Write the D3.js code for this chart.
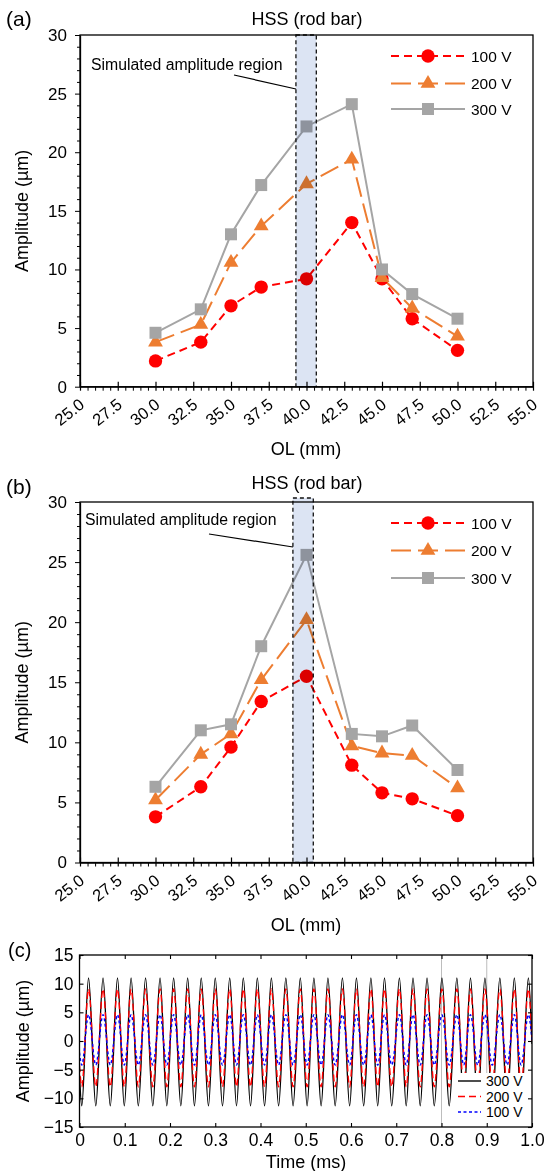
<!DOCTYPE html>
<html>
<head>
<meta charset="utf-8">
<script src="https://cdn.jsdelivr.net/npm/d3@7"></script>
<style>
  body { margin: 0; background: #fff; }
  svg { display: block; font-family: "Liberation Sans", Arial, sans-serif; }
</style>
</head>
<body>
<svg id="fig" width="544" height="1171"></svg>
<script>
// ---- datos (a) y (b)
const olTicks = [25, 27.5, 30, 32.5, 35, 37.5, 40, 42.5, 45, 47.5, 50, 52.5, 55];
const ol = [30, 33, 35, 37, 40, 43, 45, 47, 50];
const a100 = [2.2, 3.8, 6.9, 8.5, 9.2, 14.0, 9.2, 5.8, 3.1];
const a200 = [3.8, 5.3, 10.6, 13.7, 17.3, 19.4, 9.3, 6.7, 4.3];
const a300 = [4.6, 6.6, 13.0, 17.2, 22.2, 24.1, 10.0, 7.9, 5.8];
const b100 = [3.8, 6.3, 9.6, 13.4, 15.5, 8.1, 5.8, 5.3, 3.9];
const b200 = [5.2, 9.0, 10.7, 15.2, 20.2, 9.7, 9.1, 8.9, 6.2];
const b300 = [6.3, 11.0, 11.5, 18.0, 25.6, 10.7, 10.5, 11.4, 7.7];
const ampTicks = [0, 5, 10, 15, 20, 25, 30];
const voltages = ['100 V', '200 V', '300 V'];

// ---- datos (c): tiempos de picos y valles (ms)
const tPeak = [0.020, 0.052, 0.084, 0.114, 0.146, 0.178, 0.208, 0.239, 0.269, 0.300, 0.332, 0.362,
  0.393, 0.424, 0.456, 0.488, 0.518, 0.549, 0.581, 0.612, 0.644, 0.674, 0.707, 0.737,
  0.768, 0.801, 0.834, 0.864, 0.896, 0.929, 0.961, 0.992];
const tTrough = [0.005, 0.036, 0.068, 0.099, 0.130, 0.162, 0.193, 0.224, 0.254, 0.285, 0.316, 0.347,
  0.378, 0.409, 0.440, 0.472, 0.503, 0.534, 0.565, 0.597, 0.628, 0.659, 0.690, 0.722,
  0.753, 0.784, 0.817, 0.849, 0.880, 0.912, 0.945, 0.976];
const waveNames = ['300 V', '200 V', '100 V'];
const peakLevel = [11.0, 9.1, 4.6];
const troughLevel = [-11.3, -8.0, -4.2];
const startLevel = [-6.0, -4.2, -2.0];
const endLevel = [-0.5, -0.3, 0.0];
const timeTicks = [0, 0.1, 0.2, 0.3, 0.4, 0.5, 0.6, 0.7, 0.8, 0.9, 1.0];
const cTicks = [-15, -10, -5, 0, 5, 10, 15];
const gridTimes = [0.8, 0.9];

const svg = d3.select('#fig');
svg.append('rect').attr('width', 544).attr('height', 1171).attr('fill', '#fff');

const fuente = '"Liberation Sans", Arial, sans-serif';

//Estilos de las series
const colores = ['#ff0000', '#ed7d31', '#a5a5a5'];
const trazos = ['8,5', '20,7', null];
const simbolos = [d3.symbolCircle, d3.symbolTriangle, d3.symbolSquare];
const tamanos = [140, 95, 144];

function olPanel(cfg) {
    const x = d3.scaleLinear().domain([25, 55]).range([80, 533]);
    const y = d3.scaleLinear().domain([0, 30]).range([cfg.bottom, cfg.top]);
    const g = svg.append('g');

    const line = d3.line().x((d, i) => x(ol[i])).y(d => y(d));

    cfg.series.forEach((s, k) => {
        g.append('path')
            .datum(s)
            .attr('d', line)
            .attr('fill', 'none')
            .attr('stroke', colores[k])
            .attr('stroke-width', 2)
            .attr('stroke-dasharray', trazos[k]);
    });
    cfg.series.forEach((s, k) => {
        g.selectAll('.m' + k)
            .data(s)
            .enter()
            .append('path')
            .attr('transform', (d, i) => `translate(${x(ol[i])},${y(d)})`)
            .attr('d', d3.symbol(simbolos[k], tamanos[k]))
            .attr('fill', colores[k]);
    });

    //Region simulada (multiplica sobre las marcas)
    g.append('rect')
        .attr('x', x(cfg.region[0]))
        .attr('y', cfg.regionTop)
        .attr('width', x(cfg.region[1]) - x(cfg.region[0]))
        .attr('height', cfg.bottom - cfg.regionTop)
        .attr('fill', '#dce4f3')
        .style('mix-blend-mode', 'multiply');
    g.append('rect')
        .attr('x', x(cfg.region[0]))
        .attr('y', cfg.regionTop)
        .attr('width', x(cfg.region[1]) - x(cfg.region[0]))
        .attr('height', cfg.bottom - cfg.regionTop)
        .attr('fill', 'none')
        .attr('stroke', '#111')
        .attr('stroke-width', 1.3)
        .attr('stroke-dasharray', '4,3');

    g.append('text')
        .attr('x', cfg.note[0]).attr('y', cfg.note[1])
        .attr('font-size', 15.8).text('Simulated amplitude region');
    g.append('line')
        .attr('x1', cfg.lead[0]).attr('y1', cfg.lead[1])
        .attr('x2', cfg.lead[2]).attr('y2', cfg.lead[3])
        .attr('stroke', '#000').attr('stroke-width', 1.2);

    //Marco
    g.append('rect')
        .attr('x', 80).attr('y', cfg.top)
        .attr('width', 453).attr('height', cfg.bottom - cfg.top)
        .attr('fill', 'none').attr('stroke', '#000').attr('stroke-width', 1.3);

    //Eje X
    const minX = d3.range(25, 55.01, 0.5).filter(v => Math.abs(v / 2.5 - Math.round(v / 2.5)) > 1e-6);
    g.append('g')
        .attr('transform', `translate(0,${cfg.bottom})`)
        .call(d3.axisBottom(x).tickValues(minX).tickSize(4).tickFormat(''))
        .call(a => a.select('.domain').remove());
    const ax = g.append('g')
        .attr('transform', `translate(0,${cfg.bottom})`)
        .call(d3.axisBottom(x).tickValues(olTicks).tickSizeInner(4).tickSizeOuter(0).tickFormat(d3.format('.1f')));
    ax.select('.domain').attr('stroke-width', 1.3);
    ax.selectAll('.tick line').attr('y1', -5).attr('stroke-width', 1.2);
    ax.selectAll('.tick text')
        .attr('font-size', 16.5)
        .attr('font-family', fuente)
        .attr('fill', '#000')
        .attr('text-anchor', 'end')
        .attr('dy', null)
        .attr('y', 0)
        .attr('transform', 'translate(5,20) rotate(-38)');

    //Eje Y
    g.append('g')
        .attr('transform', 'translate(80,0)')
        .call(d3.axisLeft(y).tickValues(d3.range(0, 31, 1).filter(v => v % 5)).tickSize(3).tickFormat(''))
        .call(a => a.select('.domain').remove());
    const ay = g.append('g')
        .attr('transform', 'translate(80,0)')
        .call(d3.axisLeft(y).tickValues(ampTicks).tickSizeInner(5).tickSizeOuter(0).tickPadding(8));
    ay.select('.domain').attr('stroke-width', 1.3);
    ay.selectAll('.tick text')
        .attr('font-size', 17)
        .attr('font-family', fuente)
        .attr('fill', '#000');

    //Textos
    g.append('text').attr('x', 307).attr('y', cfg.top - cfg.titleOff).attr('text-anchor', 'middle')
        .attr('font-size', 18).text('HSS (rod bar)');
    g.append('text').attr('x', 6).attr('y', cfg.labelY).attr('font-size', 21).text(cfg.label);
    g.append('text').attr('x', 306).attr('y', cfg.bottom + 68).attr('text-anchor', 'middle')
        .attr('font-size', 18).text('OL (mm)');
    g.append('text')
        .attr('transform', `translate(28,${(cfg.top + cfg.bottom) / 2}) rotate(-90)`)
        .attr('text-anchor', 'middle').attr('font-size', 18).text('Amplitude (µm)');

    //Leyenda
    voltages.forEach((v, k) => {
        const yy = cfg.legendY[k];
        g.append('line').attr('x1', 391).attr('x2', 465).attr('y1', yy).attr('y2', yy)
            .attr('stroke', colores[k]).attr('stroke-width', 2).attr('stroke-dasharray', trazos[k]);
        g.append('path').attr('transform', `translate(428,${yy})`)
            .attr('d', d3.symbol(simbolos[k], tamanos[k])).attr('fill', colores[k]);
        g.append('text').attr('x', 471).attr('y', yy + 5.5).attr('font-size', 15.5).text(v);
    });
}

olPanel({
    label: '(a)', labelY: 26, titleOff: 10, top: 35, bottom: 386.7,
    series: [a100, a200, a300],
    region: [39.3, 40.65], regionTop: 35,
    note: [91, 70], lead: [234, 75, 296, 89],
    legendY: [56, 83.5, 109]
});
olPanel({
    label: '(b)', labelY: 494, titleOff: 13, top: 502, bottom: 862.5,
    series: [b100, b200, b300],
    region: [39.1, 40.45], regionTop: 498,
    note: [85, 525], lead: [209, 534, 293, 547],
    legendY: [523, 550.5, 578]
});

// ---- panel (c)
const cTop = 955, cBottom = 1127, cLeft = 79.5, cRight = 532;
const xc = d3.scaleLinear().domain([0, 1]).range([cLeft, cRight]);
const yc = d3.scaleLinear().domain([-15, 15]).range([cBottom, cTop]);
const gc = svg.append('g');

gc.append('clipPath').attr('id', 'clipc')
    .append('rect').attr('x', cLeft).attr('y', cTop).attr('width', cRight - cLeft).attr('height', cBottom - cTop);

gc.selectAll('.grid')
    .data(gridTimes)
    .enter()
    .append('line')
    .attr('x1', d => xc(d)).attr('x2', d => xc(d))
    .attr('y1', cTop).attr('y2', cBottom)
    .attr('stroke', '#bdbdbd').attr('stroke-width', 1);

const waveColors = ['#000000', '#ff0000', '#0000ff'];
const waveDash = [null, '7,4', '3,2.5'];
const waveLine = d3.line().x(d => xc(d[0])).y(d => yc(d[1])).curve(d3.curveMonotoneX);

waveNames.forEach((n, k) => {
    let pts = [[0, startLevel[k]]];
    tPeak.forEach(t => pts.push([t, peakLevel[k]]));
    tTrough.forEach(t => pts.push([t, troughLevel[k]]));
    pts.push([1, endLevel[k]]);
    pts.sort((p, q) => p[0] - q[0]);
    gc.append('path')
        .datum(pts)
        .attr('d', waveLine)
        .attr('clip-path', 'url(#clipc)')
        .attr('fill', 'none')
        .attr('stroke', waveColors[k])
        .attr('stroke-width', 1.4)
        .attr('stroke-dasharray', waveDash[k]);
});

//Leyenda (c)
gc.append('rect').attr('x', 455).attr('y', 1073).attr('width', cRight - 455).attr('height', cBottom - 1073)
    .attr('fill', '#fff');
waveNames.forEach((n, k) => {
    const yy = 1081 + k * 15.5;
    gc.append('line').attr('x1', 458).attr('x2', 481).attr('y1', yy).attr('y2', yy)
        .attr('stroke', waveColors[k]).attr('stroke-width', 1.4).attr('stroke-dasharray', waveDash[k]);
    gc.append('text').attr('x', 486).attr('y', yy + 5).attr('font-size', 14).text(n);
});

//Marco y ejes (c)
gc.append('rect').attr('x', cLeft).attr('y', cTop).attr('width', cRight - cLeft).attr('height', cBottom - cTop)
    .attr('fill', 'none').attr('stroke', '#000').attr('stroke-width', 1.3);

const fmtT = d => d === 0 ? '0' : d3.format('.1f')(d);
const axc = gc.append('g').attr('transform', `translate(0,${cBottom})`)
    .call(d3.axisBottom(xc).tickValues(timeTicks).tickSizeInner(-4).tickSizeOuter(0).tickPadding(7).tickFormat(fmtT));
const axcTop = gc.append('g').attr('transform', `translate(0,${cTop})`)
    .call(d3.axisTop(xc).tickValues(timeTicks).tickSizeInner(-4).tickSizeOuter(0).tickFormat(''));
const aycL = gc.append('g').attr('transform', `translate(${cLeft},0)`)
    .call(d3.axisLeft(yc).tickValues(cTicks).tickSizeInner(-4).tickSizeOuter(0).tickPadding(6)
        .tickFormat(d => d < 0 ? '\u2212' + Math.abs(d) : d));
const aycR = gc.append('g').attr('transform', `translate(${cRight},0)`)
    .call(d3.axisRight(yc).tickValues(cTicks).tickSizeInner(-4).tickSizeOuter(0).tickFormat(''));
[axc, axcTop, aycL, aycR].forEach(a => {
    a.select('.domain').remove();
    a.selectAll('.tick line').attr('stroke-width', 1.1);
    a.selectAll('.tick text')
        .attr('font-size', 17.5)
        .attr('font-family', fuente)
        .attr('fill', '#000');
});

gc.append('text').attr('x', 8).attr('y', 957).attr('font-size', 20).text('(c)');
gc.append('text').attr('x', 306).attr('y', 1168).attr('text-anchor', 'middle')
    .attr('font-size', 18).text('Time (ms)');
gc.append('text')
    .attr('transform', `translate(29,${(cTop + cBottom) / 2}) rotate(-90)`)
    .attr('text-anchor', 'middle').attr('font-size', 18).text('Amplitude (µm)');
</script>
</body>
</html>
